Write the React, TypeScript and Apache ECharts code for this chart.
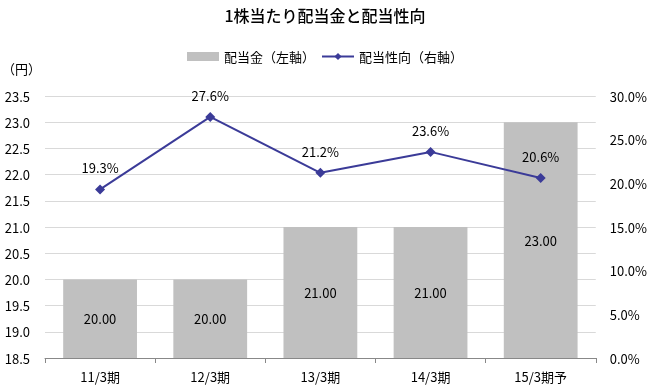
import React, { useEffect, useRef } from "react";
import * as echarts from "echarts";

const categories = ["11/3期", "12/3期", "13/3期", "14/3期", "15/3期予"];
const dividend = [20.0, 20.0, 21.0, 21.0, 23.0];
const payoutRatio = [19.3, 27.6, 21.2, 23.6, 20.6];

const FONT = '"Noto Sans CJK JP", "Noto Sans", sans-serif';

export default function App() {
  const ref = useRef<HTMLDivElement>(null);
  useEffect(() => {
    if (!ref.current) return;
    const chart = echarts.init(ref.current, null, { renderer: "svg" });
    chart.setOption({
      animation: false,
      textStyle: { fontFamily: FONT, color: "#000" },
      title: {
        text: "1株当たり配当金と配当性向",
        left: "center",
        top: 2,
        textStyle: { fontFamily: FONT, fontSize: 16, fontWeight: 500, color: "#000" },
      },
      legend: {
        top: 45,
        left: "center",
        itemGap: 6,
        itemWidth: 32,
        itemHeight: 9,
        textStyle: { fontFamily: FONT, fontSize: 13, color: "#000" },
        data: [
          { name: "配当金（左軸）", icon: "rect" },
          { name: "配当性向（右軸）" },
        ],
      },
      graphic: [
        {
          type: "text",
          left: 2,
          top: 62,
          style: { text: "（円）", fontFamily: FONT, fontSize: 13, fill: "#000" },
        },
      ],
      grid: { left: 45, right: 52, top: 96, bottom: 31, containLabel: false },
      xAxis: {
        type: "category",
        data: categories,
        axisLine: { lineStyle: { color: "#888" } },
        axisTick: { show: true, alignWithLabel: false, length: 5, lineStyle: { color: "#888" } },
        axisLabel: { color: "#000", fontSize: 13, fontFamily: FONT, margin: 12 },
      },
      yAxis: [
        {
          type: "value",
          min: 18.5,
          max: 23.5,
          interval: 0.5,
          axisLine: { show: false },
          axisTick: { show: false },
          splitLine: { lineStyle: { color: "#d9d9d9" } },
          axisLabel: {
            color: "#000",
            fontSize: 13,
            fontFamily: FONT,
            formatter: (v: number) => v.toFixed(1),
            margin: 15,
          },
        },
        {
          type: "value",
          min: 0,
          max: 30,
          interval: 5,
          axisLine: { show: false },
          axisTick: { show: false },
          splitLine: { show: false },
          axisLabel: {
            color: "#000",
            fontSize: 13,
            fontFamily: FONT,
            formatter: (v: number) => v.toFixed(1) + "%",
            margin: 14,
          },
        },
      ],
      series: [
        {
          name: "配当金（左軸）",
          type: "bar",
          yAxisIndex: 0,
          data: dividend,
          barWidth: "67%",
          itemStyle: { color: "#c0c0c0" },
          label: {
            show: true,
            position: "inside",
            color: "#000",
            fontSize: 13,
            fontFamily: FONT,
            formatter: (p: any) => Number(p.value).toFixed(2),
          },
        },
        {
          name: "配当性向（右軸）",
          type: "line",
          yAxisIndex: 1,
          data: payoutRatio,
          symbol: "diamond",
          symbolSize: 10,
          lineStyle: { color: "#3b3b98", width: 2 },
          itemStyle: { color: "#3b3b98" },
          label: {
            show: true,
            position: "top",
            distance: 10,
            color: "#000",
            fontSize: 13,
            fontFamily: FONT,
            formatter: (p: any) => Number(p.value).toFixed(1) + "%",
          },
        },
      ],
    });
    return () => chart.dispose();
  }, []);
  return (
    <div
      ref={ref}
      style={{ position: "fixed", left: 0, top: 0, width: 650, height: 389 }}
    />
  );
}
